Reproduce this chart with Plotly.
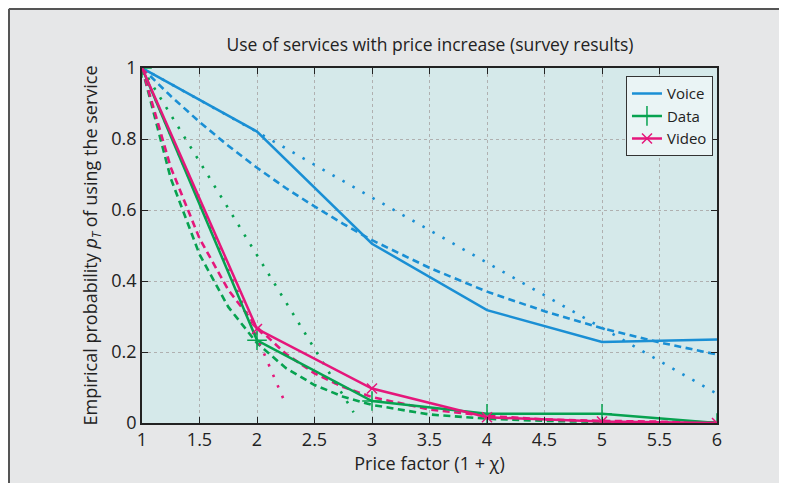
import plotly.graph_objects as go

# ---- data ----
x_int = [1, 2, 3, 4, 5, 6]
voice_survey = [1.0, 0.821, 0.505, 0.318, 0.228, 0.235]
data_survey = [1.0, 0.233, 0.062, 0.026, 0.026, 0.0]
video_survey = [1.0, 0.265, 0.097, 0.016, 0.004, 0.0]

x_fine = [1, 1.25, 1.5, 1.75, 2, 2.25, 2.5, 2.75, 3, 3.5, 4, 4.5, 5, 5.5, 6]
voice_dashed = [1.0, 0.921, 0.848, 0.781, 0.719, 0.662, 0.61, 0.561, 0.515, 0.437, 0.37, 0.315, 0.267, 0.227, 0.193]
data_dashed = [1.0, 0.689, 0.475, 0.327, 0.225, 0.155, 0.107, 0.074, 0.051, 0.024, 0.012, 0.006, 0.003, 0.001, 0.001]
video_dashed = [1.0, 0.72, 0.52, 0.375, 0.27, 0.195, 0.14, 0.101, 0.073, 0.038, 0.02, 0.01, 0.006, 0.003, 0.0015]

voice_dot_x = [1, 2, 3, 4, 5, 6]
voice_dotted = [1.0, 0.82, 0.635, 0.452, 0.268, 0.082]
data_dot_x = [1, 2.84]
data_dotted = [1.0, 0.03]
video_dot_x = [1, 2.24]
video_dotted = [1.0, 0.06]

x_ticks = [1, 1.5, 2, 2.5, 3, 3.5, 4, 4.5, 5, 5.5, 6]
x_tick_labels = ["1", "1.5", "2", "2.5", "3", "3.5", "4", "4.5", "5", "5.5", "6"]
y_ticks = [0, 0.2, 0.4, 0.6, 0.8, 1]
y_tick_labels = ["0", "0.2", "0.4", "0.6", "0.8", "1"]

BLUE = "#1a8fd4"
GREEN = "#07a250"
PINK = "#e5177b"
FONT = "Open Sans, Noto Sans, DejaVu Sans, sans-serif"
DOTS = "2.5px,9px"
DASHES = "7px,4.5px"

fig = go.Figure()

# model curves (not in legend)
fig.add_trace(go.Scatter(x=x_fine, y=voice_dashed, mode="lines", showlegend=False,
                         line=dict(color=BLUE, width=2.6, dash=DASHES)))
fig.add_trace(go.Scatter(x=x_fine, y=data_dashed, mode="lines", showlegend=False,
                         line=dict(color=GREEN, width=2.6, dash=DASHES)))
fig.add_trace(go.Scatter(x=x_fine, y=video_dashed, mode="lines", showlegend=False,
                         line=dict(color=PINK, width=2.6, dash=DASHES)))
fig.add_trace(go.Scatter(x=voice_dot_x, y=voice_dotted, mode="lines", showlegend=False,
                         line=dict(color=BLUE, width=2.6, dash=DOTS)))
fig.add_trace(go.Scatter(x=data_dot_x, y=data_dotted, mode="lines", showlegend=False,
                         line=dict(color=GREEN, width=2.6, dash=DOTS)))
fig.add_trace(go.Scatter(x=video_dot_x, y=video_dotted, mode="lines", showlegend=False,
                         line=dict(color=PINK, width=2.6, dash=DOTS)))

# survey results
fig.add_trace(go.Scatter(x=x_int, y=voice_survey, mode="lines", name="Voice",
                         line=dict(color=BLUE, width=2.5)))
fig.add_trace(go.Scatter(x=x_int, y=data_survey, mode="lines+markers", name="Data",
                         line=dict(color=GREEN, width=2.5),
                         marker=dict(symbol="cross-thin-open", size=14,
                                     line=dict(color=GREEN, width=1.5))))
fig.add_trace(go.Scatter(x=x_int, y=video_survey, mode="lines+markers", name="Video",
                         line=dict(color=PINK, width=2.5),
                         marker=dict(symbol="x-thin-open", size=10,
                                     line=dict(color=PINK, width=1.5))))

# frame lines along the top and left edges of the page
fig.add_shape(type="line", xref="paper", yref="paper",
              x0=(1 - 134) / 575, x1=(1000 - 134) / 575,
              y0=(415 - 1) / 355, y1=(415 - 1) / 355,
              line=dict(color="#555555", width=2), layer="below")
fig.add_shape(type="line", xref="paper", yref="paper",
              x0=(1 - 134) / 575, x1=(1 - 134) / 575,
              y0=(415 - 1) / 355, y1=(415 - 700) / 355,
              line=dict(color="#555555", width=2), layer="below")

axis_common = dict(showline=True, linecolor="#222222", linewidth=1.5, mirror="ticks",
                   ticks="inside", ticklen=6, tickcolor="#222222",
                   showgrid=True, gridcolor="#b0b0b0", griddash="dot", gridwidth=1,
                   zeroline=False, tickfont=dict(family=FONT, size=18, color="#222222"))

fig.update_layout(
    width=787, height=483,
    paper_bgcolor="#e6e7e8", plot_bgcolor="#d5e9ea",
    margin=dict(l=134, r=78, t=60, b=68),
    title=dict(text="Use of services with price increase (survey results)",
               x=422 / 787, xanchor="center", y=1 - 37 / 483, yanchor="middle",
               font=dict(family=FONT, size=17.5, color="#222222")),
    xaxis=dict(range=[1, 6], tickvals=x_ticks, ticktext=x_tick_labels,
               title=dict(text="Price factor (1 + χ)", standoff=4,
                          font=dict(family=FONT, size=18, color="#222222")),
               **axis_common),
    yaxis=dict(range=[0, 1], tickvals=y_ticks, ticktext=y_tick_labels,
               title=dict(text="Empirical probability <i>p<sub>T</sub></i> of using the service",
                          standoff=9, font=dict(family=FONT, size=18, color="#222222")),
               **axis_common),
    legend=dict(x=0.993, y=0.977, xanchor="right", yanchor="top",
                bgcolor="#eaf4f5", bordercolor="#333333", borderwidth=1,
                font=dict(family=FONT, size=15, color="#222222"),
                tracegroupgap=0, itemwidth=30),
    showlegend=True,
)

fig.write_html("out.html")
